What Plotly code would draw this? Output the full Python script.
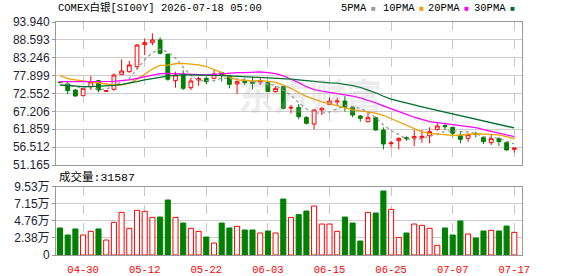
import plotly.graph_objects as go

dates = ["2026-04-27", "2026-04-28", "2026-04-29", "2026-04-30", "2026-05-01",
         "2026-05-04", "2026-05-05", "2026-05-06", "2026-05-07", "2026-05-08",
         "2026-05-11", "2026-05-12", "2026-05-13", "2026-05-14", "2026-05-15",
         "2026-05-18", "2026-05-19", "2026-05-20", "2026-05-21", "2026-05-22",
         "2026-05-25", "2026-05-26", "2026-05-27", "2026-05-28", "2026-05-29",
         "2026-06-01", "2026-06-02", "2026-06-03", "2026-06-04", "2026-06-05",
         "2026-06-08", "2026-06-09", "2026-06-10", "2026-06-11", "2026-06-12",
         "2026-06-15", "2026-06-16", "2026-06-17", "2026-06-18", "2026-06-19",
         "2026-06-22", "2026-06-23", "2026-06-24", "2026-06-25", "2026-06-26",
         "2026-06-29", "2026-06-30", "2026-07-01", "2026-07-02", "2026-07-03",
         "2026-07-06", "2026-07-07", "2026-07-08", "2026-07-09", "2026-07-10",
         "2026-07-13", "2026-07-14", "2026-07-15", "2026-07-16", "2026-07-17"]

opens = [75.95, 75.39, 73.60, 71.90, 74.60, 76.39, 73.20, 73.80, 78.29, 79.08,
         80.58, 87.16, 87.76, 88.56, 84.27, 76.39, 78.38, 74.30, 76.59, 77.09,
         77.09, 78.78, 77.79, 75.39, 76.39, 76.09, 75.99, 75.79, 73.10, 74.60,
         68.20, 68.41, 65.40, 63.43, 67.62, 69.31, 70.01, 70.31, 68.41, 65.82,
         64.13, 65.32, 61.63, 57.55, 58.44, 59.34, 59.24, 59.34, 59.94, 61.83,
         62.93, 62.43, 59.94, 59.14, 60.64, 59.44, 57.85, 59.04, 57.85, 55.85]
highs = [76.30, 76.09, 73.80, 74.10, 77.80, 76.60, 73.60, 78.58, 82.77, 82.27,
         87.36, 89.05, 90.55, 89.35, 84.57, 79.08, 79.48, 77.29, 77.59, 77.59,
         79.48, 79.08, 78.09, 76.39, 77.09, 77.59, 77.39, 76.09, 74.79, 74.79,
         69.11, 69.41, 65.80, 67.82, 68.41, 71.41, 71.30, 71.80, 68.80, 66.12,
         67.12, 65.60, 62.43, 58.44, 59.44, 59.74, 61.63, 61.63, 62.43, 63.63,
         63.83, 62.63, 61.33, 60.64, 61.14, 59.74, 60.14, 59.44, 58.15, 56.30]
lows = [75.50, 72.40, 71.60, 71.90, 73.60, 72.90, 73.00, 73.40, 78.09, 78.78,
        79.78, 84.07, 86.96, 84.27, 76.39, 74.30, 73.60, 73.60, 74.89, 75.39,
        76.79, 76.09, 74.10, 72.40, 75.09, 73.80, 75.09, 73.00, 72.80, 67.82,
        66.62, 64.82, 63.30, 61.83, 66.12, 69.11, 69.10, 67.12, 65.42, 64.13,
        63.93, 61.40, 55.85, 56.45, 55.85, 58.44, 56.85, 57.85, 57.65, 61.43,
        61.63, 59.64, 57.65, 58.15, 59.44, 57.45, 57.15, 56.85, 55.60, 54.85]
closes = [75.85, 73.40, 71.80, 74.10, 76.00, 73.60, 73.40, 78.09, 79.28, 81.08,
          87.06, 87.76, 88.56, 84.57, 76.79, 78.09, 74.10, 76.29, 76.99, 76.09,
          78.38, 78.09, 75.29, 76.09, 75.79, 75.59, 76.39, 73.10, 74.10, 68.11,
          68.41, 65.62, 63.63, 67.62, 68.11, 70.31, 70.31, 68.41, 66.12, 65.12,
          65.32, 61.63, 57.45, 57.75, 59.14, 59.04, 59.64, 59.74, 61.14, 62.83,
          62.63, 60.64, 58.84, 60.24, 60.34, 58.15, 59.04, 58.15, 55.65, 56.25]
volumes = [37700, 27900, 36300, 27900, 33000, 36300, 20900, 45600, 59500, 37200,
           62300, 60900, 52500, 53000, 76700, 52500, 44600, 37200, 33000, 25100,
           16700, 44600, 37700, 40000, 34900, 34900, 30700, 33500, 30700, 78100,
           52500, 56300, 61400, 68300, 43200, 43200, 33000, 53000, 44600, 19500,
           59500, 58600, 89300, 63700, 24600, 30700, 43200, 41400, 37200, 13500,
           37700, 27900, 47400, 29300, 23700, 33500, 34400, 33500, 40400, 31587]

ma5 = [76.0, 75.3, 74.6, 74.2, 74.24, 73.78, 73.78, 75.04, 76.07, 77.09,
       79.78, 82.65, 84.75, 85.81, 84.95, 83.15, 80.42, 77.97, 76.45, 76.31,
       76.37, 77.17, 76.97, 76.79, 76.73, 76.17, 75.83, 75.39, 74.99, 73.46,
       72.02, 69.87, 67.97, 66.68, 66.68, 67.06, 68.00, 68.95, 68.65, 68.05,
       67.06, 65.32, 63.13, 61.45, 60.26, 59.00, 58.60, 59.06, 59.74, 60.48,
       61.20, 61.40, 61.22, 61.04, 60.54, 59.64, 59.32, 59.18, 58.27, 57.45]
ma10 = [77.9, 77.0, 76.6, 76.3, 76.1, 75.9, 75.6, 75.1, 75.1, 75.67,
        76.78, 78.22, 79.89, 80.94, 81.02, 81.47, 81.54, 81.36, 81.13, 80.63,
        79.76, 78.80, 77.47, 76.62, 76.52, 76.27, 76.50, 76.18, 75.89, 75.09,
        74.10, 72.85, 71.68, 70.84, 70.07, 69.54, 68.93, 68.46, 67.67, 67.37,
        67.06, 66.66, 66.04, 65.05, 64.16, 63.03, 61.96, 61.10, 60.60, 60.37,
        60.10, 60.00, 60.14, 60.39, 60.51, 60.42, 60.36, 60.20, 59.65, 58.99]
ma20 = [76.1, 76.1, 76.1, 76.1, 76.1, 76.1, 76.1, 76.2, 76.4, 76.6,
        77.1, 77.6, 78.1, 78.5, 78.6, 78.5, 78.4, 78.3, 78.2, 78.15,
        78.27, 78.51, 78.68, 78.78, 78.77, 78.87, 79.02, 78.77, 78.51, 77.86,
        76.93, 75.82, 74.58, 73.73, 73.29, 72.91, 72.72, 72.32, 71.78, 71.23,
        70.58, 69.75, 68.86, 67.94, 67.11, 66.28, 65.45, 64.78, 64.13, 63.87,
        63.58, 63.33, 63.09, 62.72, 62.33, 61.72, 61.16, 60.65, 60.12, 59.68]
ma30 = [75.1, 74.9, 74.7, 74.6, 74.6, 74.7, 74.8, 75.0, 75.3, 75.6,
        76.1, 76.6, 77.1, 77.4, 77.8, 78.0, 78.1, 78.1, 78.1, 78.0,
        77.9, 77.9, 77.8, 77.7, 77.6, 77.5, 77.4, 77.4, 77.3, 77.13,
        76.88, 76.62, 76.35, 76.13, 75.87, 75.76, 75.66, 75.33, 74.90, 74.36,
        73.64, 72.77, 71.73, 70.84, 70.25, 69.61, 69.13, 68.58, 68.05, 67.61,
        67.08, 66.50, 65.95, 65.43, 64.91, 64.33, 63.75, 63.25, 62.64, 62.24]

price_ticks = [51.165, 56.512, 61.859, 67.206, 72.552, 77.899, 83.246, 88.593, 93.940]
price_tick_text = ["51.165", "56.512", "61.859", "67.206", "72.552",
                   "77.899", "83.246", "88.593", "93.940"]
vol_ticks = [0, 23825, 47650, 71475, 95300]
vol_tick_text = ["0", "2.38万", "4.76万", "7.15万", "9.53万"]
date_ticks = ["2026-04-30", "2026-05-12", "2026-05-22", "2026-06-03",
              "2026-06-15", "2026-06-25", "2026-07-07", "2026-07-17"]
date_tick_text = ["04-30", "05-12", "05-22", "06-03", "06-15", "06-25", "07-07", "07-17"]

title_text = "COMEX白银[SI00Y] 2026-07-18 05:00"
ma_names = ["5PMA", "10PMA", "20PMA", "30PMA"]
ma_colors = ["#9a9a9a", "#f0a000", "#ff00ff", "#006f2e"]

RED = "#ff0000"
GREEN = "#008000"
MONO = "Liberation Mono, Noto Sans CJK SC, monospace"
SANS = "Liberation Sans, Noto Sans CJK SC, sans-serif"

fig = go.Figure()

fig.add_trace(go.Candlestick(
    x=dates, open=opens, high=highs, low=lows, close=closes,
    xaxis="x", yaxis="y",
    increasing=dict(line=dict(color=RED, width=1), fillcolor="#ffffff"),
    decreasing=dict(line=dict(color=GREEN, width=1), fillcolor=GREEN),
    whiskerwidth=0, showlegend=False, hoverinfo="skip",
))

for vals, color, dash in [(ma5, ma_colors[0], "dot"), (ma10, ma_colors[1], "solid"),
                          (ma20, ma_colors[2], "solid"), (ma30, ma_colors[3], "solid")]:
    fig.add_trace(go.Scatter(
        x=dates, y=vals, mode="lines", xaxis="x", yaxis="y",
        line=dict(color=color, width=1.3, dash=dash),
        showlegend=False, hoverinfo="skip",
    ))

up = [c >= o for o, c in zip(opens, closes)]
fig.add_trace(go.Bar(
    x=dates, y=volumes, xaxis="x2", yaxis="y2", width=0.66,
    marker=dict(color=["#ffffff" if u else GREEN for u in up],
                line=dict(color=[RED if u else GREEN for u in up], width=1)),
    showlegend=False, hoverinfo="skip",
))

plot_top, plot_bottom, H = 22, 255, 276
ph = plot_bottom - plot_top
main_bottom = (plot_bottom - 165) / ph
vol_top = (plot_bottom - 186.7) / ph

axis_common = dict(showline=True, linecolor="#999999", linewidth=1, mirror=True,
                   zeroline=False, automargin=False)

fig.update_layout(
    width=578, height=276,
    margin=dict(l=56, r=56, t=plot_top, b=H - plot_bottom, autoexpand=False),
    paper_bgcolor="#ffffff", plot_bgcolor="#ffffff",
    showlegend=False, boxgap=0.3,
    xaxis=dict(type="category", domain=[0, 1], anchor="y", range=[-0.52, 60.0],
               rangeslider=dict(visible=False), tickvals=date_ticks,
               showticklabels=False, ticks="", showgrid=True, gridcolor="#c8c8c8",
               griddash="dash", gridwidth=1, **axis_common),
    yaxis=dict(domain=[main_bottom, 1], anchor="x", range=[price_ticks[0], price_ticks[-1]],
               tickvals=price_ticks, ticktext=price_tick_text, ticks="outside", ticklen=3,
               tickcolor="#999999", showgrid=True, gridcolor="#cccccc", gridwidth=1,
               tickfont=dict(family=SANS, size=12, color="#1e1e32"), **axis_common),
    xaxis2=dict(type="category", domain=[0, 1], anchor="y2", matches="x",
                tickvals=date_ticks, ticktext=date_tick_text,
                ticks="outside", ticklen=4, tickcolor="rgba(0,0,0,0)",
                showgrid=True, gridcolor="#c8c8c8", griddash="dash", gridwidth=1,
                tickfont=dict(family=MONO, size=10.5, color=RED), **axis_common),
    yaxis2=dict(domain=[0, vol_top], anchor="x2", range=[vol_ticks[0], vol_ticks[-1]],
                tickvals=vol_ticks, ticktext=vol_tick_text, ticks="outside", ticklen=3,
                tickcolor="#999999", showgrid=True, gridcolor="#cccccc", gridwidth=1,
                tickfont=dict(family=SANS, size=12, color="#1e1e32"), **axis_common),
)

annotations = []
title_y = (plot_bottom - 8) / ph
annotations.append(dict(text=title_text, xref="paper", yref="paper", x=0, y=title_y,
                        xanchor="left", yanchor="middle", showarrow=False,
                        font=dict(family=MONO, size=10.5, color="#000000")))
legend_px = [339, 380.7, 426, 471.7]
for name, color, px in zip(ma_names, ma_colors, legend_px):
    annotations.append(dict(
        text=f"{name}<span style='font-size:8px;color:{color}'> ■</span>",
        xref="paper", yref="paper", x=(px - 56) / 466, y=title_y,
        xanchor="left", yanchor="middle", showarrow=False,
        font=dict(family=MONO, size=10.5, color="#000000")))
annotations.append(dict(text=f"成交量:{volumes[-1]}", xref="paper", yref="paper",
                        x=0.002, y=(plot_bottom - 177) / ph, xanchor="left", yanchor="middle",
                        showarrow=False, font=dict(family=MONO, size=11.5, color="#000000")))
annotations.append(dict(text="<b>东方财富</b>", xref="paper", yref="paper",
                        x=(310 - 56) / 466, y=(plot_bottom - 94) / ph,
                        xanchor="center", yanchor="middle", showarrow=False,
                        font=dict(family="Noto Sans CJK SC", size=36,
                                  color="rgba(170,170,170,0.22)")))
fig.update_layout(annotations=annotations)

fig.write_html("out.html")
